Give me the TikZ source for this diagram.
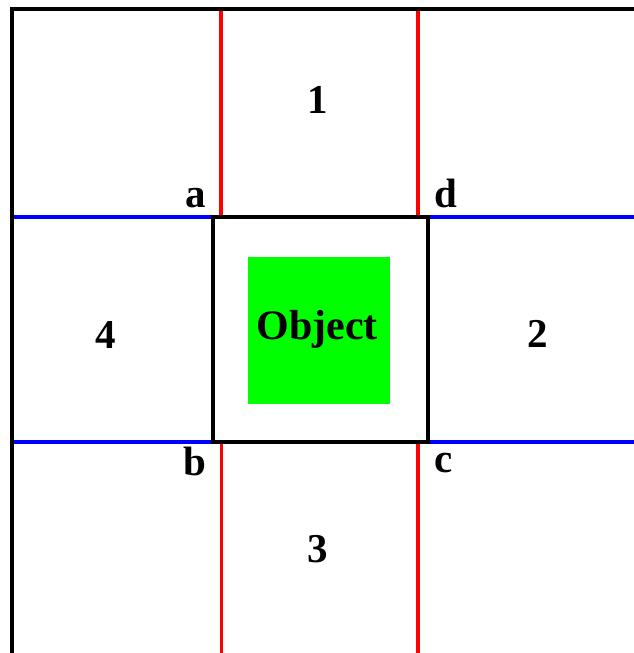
\documentclass[tikz,border=0pt]{standalone}
\usepackage{fontspec}
\setmainfont{Liberation Serif}
\begin{document}
\begin{tikzpicture}[x=1pt,y=-1pt,
  lbl/.style={font=\fontsize{41}{45}\selectfont\bfseries, anchor=base, inner sep=0pt},
  objlbl/.style={font=\fontsize{42}{46}\selectfont\bfseries, anchor=base, inner sep=0pt},
  redline/.style={draw=red, line width=3.5pt},
  blueline/.style={draw=blue, line width=3.5pt},
  frame/.style={draw=black, line width=4pt}]
\useasboundingbox (0,0) rectangle (633,653);
% outer frame
\coordinate (tl) at (12,9);
\coordinate (tr) at (640,9);
\coordinate (bl) at (12,660);
\draw[frame, line cap=rect] (tr) -- (tl) -- (bl);
% central square
\node[frame, minimum width=214.5pt, minimum height=225pt, inner sep=0pt, outer sep=0pt] (box) at (320.25,329.5) {};
% green object
\node[fill={rgb,255:red,0;green,255;blue,0}, minimum width=142pt, minimum height=147pt, inner sep=0pt] (obj) at (319,330.5) {};
% red lines
\coordinate (r1t) at (221,11);
\coordinate (r1b) at (221,215);
\coordinate (r2t) at (418,11);
\coordinate (r2b) at (418,215);
\coordinate (r3t) at (221.5,444);
\coordinate (r3b) at (221.5,660);
\coordinate (r4t) at (418,444);
\coordinate (r4b) at (418,660);
\draw[redline] (r1t) -- (r1b);
\draw[redline] (r2t) -- (r2b);
\draw[redline] (r3t) -- (r3b);
\draw[redline] (r4t) -- (r4b);
% blue lines
\coordinate (b1l) at (14,217);
\coordinate (b1r) at (211,217);
\coordinate (b2l) at (429.5,217);
\coordinate (b2r) at (640,217);
\coordinate (b3l) at (14,442);
\coordinate (b3r) at (211,442);
\coordinate (b4l) at (429.5,442);
\coordinate (b4r) at (640,442);
\draw[blueline] (b1l) -- (b1r);
\draw[blueline] (b2l) -- (b2r);
\draw[blueline] (b3l) -- (b3r);
\draw[blueline] (b4l) -- (b4r);
% labels
\node[lbl] (t1) at (318,113) {1};
\node[lbl] (t2) at (537.5,347) {2};
\node[lbl] (t3) at (318,562) {3};
\node[lbl] (t4) at (106,348) {4};
\node[objlbl] (tobj) at (317,339) {Object};
\node[lbl] (ta) at (195.5,207) {a};
\node[lbl] (td) at (446,207) {d};
\node[lbl] (tb) at (195,475) {b};
\node[lbl] (tc) at (443.5,472) {c};
\end{tikzpicture}
\end{document}
